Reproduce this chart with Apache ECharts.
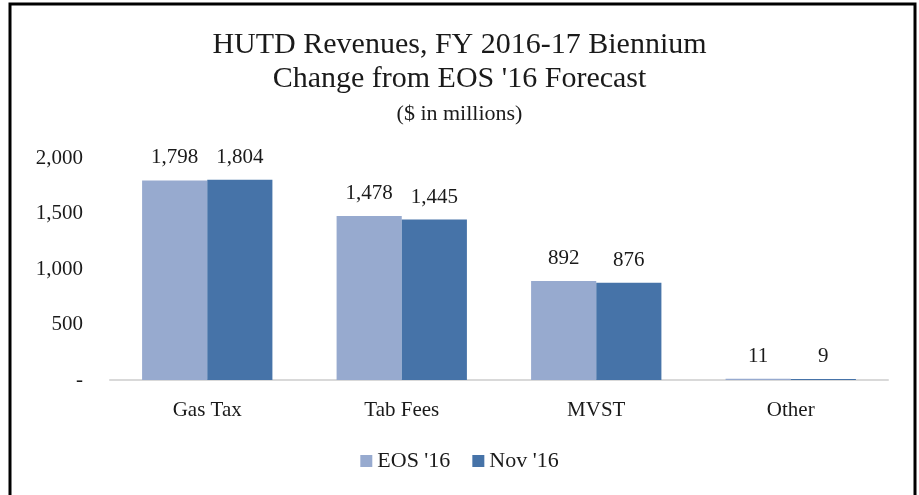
<!DOCTYPE html>
<html lang="en">
<head>
    <meta charset="utf-8">
    <script src="https://cdn.jsdelivr.net/npm/echarts@6/dist/echarts.min.js"></script>
    <style>
        html, body { margin: 0; padding: 0; background: #fff; }
        #chart { width: 919px; height: 495px; }
    </style>
</head>
<body>
    <div id="chart"></div>
    <script>
        // data
        const categories = ['Gas Tax', 'Tab Fees', 'MVST', 'Other']
        const seriesNames = ["EOS '16", "Nov '16"]
        const eosValues = [1798, 1478, 892, 11]
        const novValues = [1804, 1445, 876, 9]
        const yTicks = [0, 500, 1000, 1500, 2000]

        const font = 'Liberation Serif, Times New Roman, serif'
        const textColor = '#1a1a1a'

        const chart = echarts.init(document.querySelector('#chart'))

        const labelOpt = {
            show: true,
            position: 'top',
            distance: 12,
            fontFamily: font,
            fontSize: 21,
            color: textColor,
            formatter: p => p.value.toLocaleString('en-US')
        }

        chart.setOption({
            animation: false,
            title: [{
                text: "HUTD Revenues, FY 2016-17 Biennium\nChange from EOS '16 Forecast",
                left: 'center',
                top: 23,
                textStyle: {
                    fontFamily: font,
                    fontSize: 30,
                    fontWeight: 'normal',
                    color: textColor,
                    lineHeight: 34
                }
            }, {
                text: '($ in millions)',
                left: 'center',
                top: 98,
                textStyle: {
                    fontFamily: font,
                    fontSize: 22,
                    fontWeight: 'normal',
                    color: textColor
                }
            }],
            // frame around the chart
            graphic: [{
                type: 'rect',
                shape: { x: 10, y: 4, width: 905, height: 500 },
                style: { fill: 'none', stroke: '#000', lineWidth: 3 },
                silent: true
            }],
            legend: {
                data: seriesNames,
                top: 445,
                left: 'center',
                itemWidth: 12,
                itemHeight: 12,
                itemGap: 22,
                icon: 'rect',
                textStyle: { fontFamily: font, fontSize: 22, color: textColor }
            },
            grid: { left: 110, right: 31, top: 158, bottom: 115 },
            xAxis: {
                type: 'category',
                data: categories,
                axisLine: { lineStyle: { color: '#d9d9d9', width: 2 } },
                axisTick: { show: false },
                axisLabel: { fontFamily: font, fontSize: 21, color: textColor, margin: 20 }
            },
            yAxis: {
                type: 'value',
                min: yTicks[0],
                max: yTicks[yTicks.length - 1],
                interval: yTicks[1] - yTicks[0],
                splitLine: { show: false },
                axisLine: { show: false },
                axisTick: { show: false },
                axisLabel: {
                    fontFamily: font,
                    fontSize: 21,
                    color: textColor,
                    margin: 27,
                    formatter: v => v === 0 ? '-' : v.toLocaleString('en-US')
                }
            },
            series: [{
                name: seriesNames[0],
                type: 'bar',
                data: eosValues,
                barGap: '0%',
                barCategoryGap: '33%',
                itemStyle: { color: '#97aacf' },
                label: labelOpt
            }, {
                name: seriesNames[1],
                type: 'bar',
                data: novValues,
                barGap: '0%',
                barCategoryGap: '33%',
                itemStyle: { color: '#4673a8' },
                label: labelOpt
            }]
        })
    </script>
</body>
</html>
